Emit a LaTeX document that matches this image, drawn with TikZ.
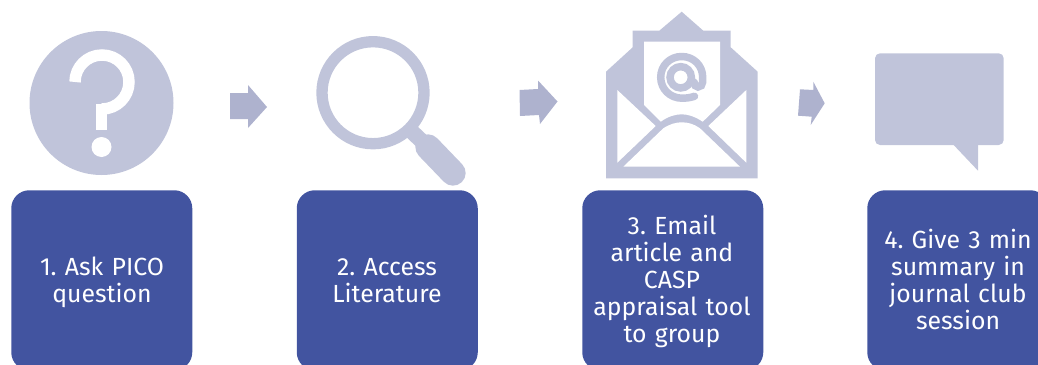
\documentclass[tikz,border=0pt]{standalone}
\usepackage{fontspec}
\setmainfont{Fira Sans}
\frenchspacing
\definecolor{iconc}{HTML}{C0C4DA}
\definecolor{arrowc}{HTML}{AEB2CE}
\definecolor{boxc}{HTML}{4254A0}
\tikzset{
  stepbox/.style={fill=boxc,rounded corners=13.5pt,minimum width=135.75pt,minimum height=135pt,inner sep=0pt,anchor=north west},
  steptext/.style={text=white,font=\fontsize{18.6pt}{20.25pt}\selectfont,align=center,text width=128pt,inner sep=0pt},
  icon/.style={fill=iconc,draw=none},
  blockarrow/.style={fill=arrowc,draw=none},
  iconline/.style={draw=iconc}
}
\begin{document}
\begin{tikzpicture}[x=0.75pt,y=-0.75pt]
\useasboundingbox (0,0) rectangle (1038,364);
\clip (0,0) rectangle (1038,364);
% boxes
\node[stepbox] (b1) at (11,190) {};
\node[stepbox] (b2) at (296.5,190) {};
\node[stepbox] (b3) at (582,190) {};
\node[stepbox] (b4) at (867,190) {};
\node[steptext] (t1) at (102,282.5) {1. Ask PICO\\question};
\node[steptext] (t2) at (387,281) {2. Access\\Literature};
\node[steptext] (t3) at (672,281) {3. Email\\article and\\CASP\\appraisal tool\\to group};
\node[steptext] (t4) at (958,279.5) {4. Give 3 min\\summary in\\journal club\\session};
% question icon
\fill[icon] (101.5,103) circle (54pt);
\draw[draw=white,line width=8.6pt] (75,82) arc[start angle=180,end angle=-90,radius=20.25pt];
\draw[draw=white,line width=8.6pt] (101.5,104) -- (101.5,130);
\fill[white] (101.5,147) circle (7.5pt);
% arrows
\fill[blockarrow] (230,93) -- (248,93) -- (248,85) -- (267,107) -- (248,128) -- (248,119) -- (230,119) -- cycle;
\fill[blockarrow] (519.5,90) -- (538,89) -- (538,80.5) -- (557.5,101.5) -- (540,124) -- (539,115) -- (520,116) -- cycle;
\fill[blockarrow] (800,89.3) -- (813.3,90) -- (813.3,81.7) -- (824.7,103.3) -- (810.7,125) -- (811.7,116.7) -- (798,115.7) -- cycle;
% magnifier
\draw[iconline,line width=8.5pt] (373,92.7) circle (38.25pt);
\draw[iconline,line width=11.6pt] (409,129) -- (428,147);
\draw[iconline,line width=19pt,line cap=round] (428,147) -- (453,173);
% envelope
\fill[icon] (681.7,11.7) -- (703.3,30.7) -- (730.7,30.7) -- (730.7,47.3) -- (757.7,71.7) -- (757.7,178.3) -- (606,178.3) -- (606,71.7) -- (632.7,47.3) -- (632.7,30.7) -- (659.3,30.7) -- cycle;
\fill[white] (644,41.7) -- (720,41.7) -- (720,105) -- (702.7,121.7) .. controls (695,116.5) and (688,114.3) .. (681.7,114.3) .. controls (675,114.3) and (668,116.5) .. (660.7,121.7) -- (644,105) -- cycle;
\fill[white] (617.3,90) -- (655.7,126) -- (617.3,162.7) -- cycle;
\fill[white] (746.3,90) -- (708.3,126) -- (746.3,162.7) -- cycle;
\fill[white] (623.3,166.7) -- (663.3,128.3) .. controls (670,124) and (676,122.3) .. (681.7,122.3) .. controls (688,122.3) and (694,124) .. (700,128.3) -- (740,166.7) -- cycle;
\draw[iconline,line width=5.6pt] (680.7,77.3) circle (8pt);
\draw[iconline,line width=5.6pt,line cap=round] (694.5,96.3) .. controls (690,97.8) and (686,98.2) .. (682,98.2) .. controls (670,98.2) and (660.7,89) .. (660.7,77.3) .. controls (660.7,65.5) and (670,56.5) .. (681.7,56.5) .. controls (693.5,56.5) and (702.7,65.5) .. (702.7,77.3) -- (702.7,82) .. controls (702.7,85) and (700.5,87) .. (698,87) .. controls (695.5,87) and (694.5,85) .. (694,82);
% speech bubble
\fill[icon,rounded corners=3.75pt] (875,53.3) -- (1003.7,53.3) -- (1003.7,145) -- (875,145) -- cycle;
\fill[icon] (952.7,144) -- (978,170.7) -- (978,144) -- cycle;
\end{tikzpicture}
\end{document}
